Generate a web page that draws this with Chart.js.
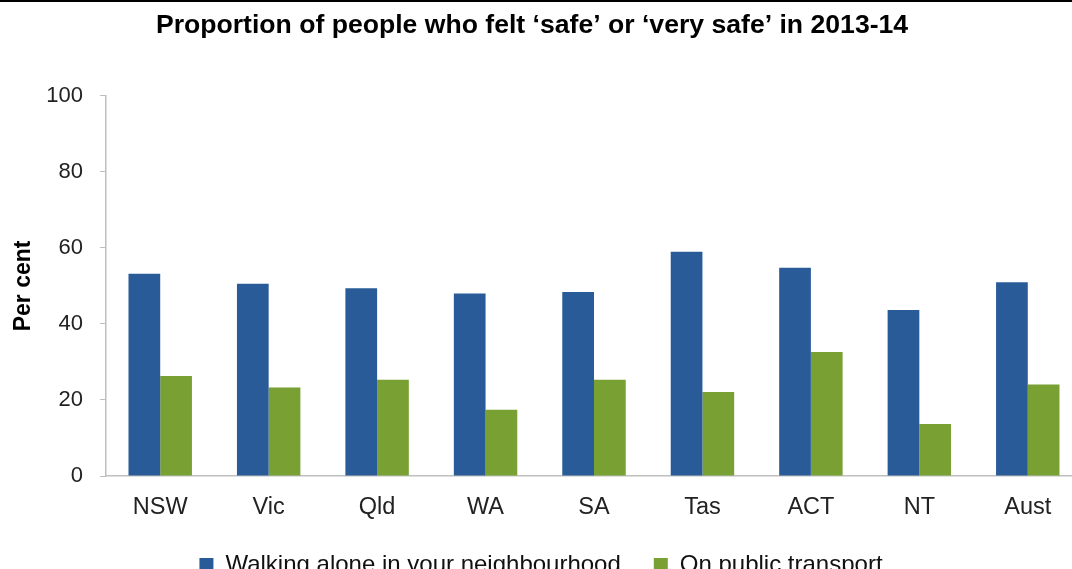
<!DOCTYPE html>
<html>
<head>
<meta charset="utf-8">
<script src="https://cdn.jsdelivr.net/npm/chart.js@4.4.0/dist/chart.umd.min.js"></script>
<style>
html, body { margin: 0; padding: 0; background: #fff; overflow: hidden; }
body { border-top: 2px solid #000; }
#wrap { position: relative; width: 1082px; height: 585px; }
</style>
</head>
<body>
<div id="wrap"><canvas id="chart"></canvas></div>
<script>
var STATES = ['NSW', 'Vic', 'Qld', 'WA', 'SA', 'Tas', 'ACT', 'NT', 'Aust'];
var WALKING = [53.2, 50.6, 49.4, 48.0, 48.4, 59.0, 54.8, 43.7, 51.0];
var TRANSPORT = [26.3, 23.3, 25.3, 17.4, 25.3, 22.1, 32.6, 13.7, 24.1];
var SERIES_NAMES = ['Walking alone in your neighbourhood', 'On public transport'];
var TITLE = 'Proportion of people who felt \u2018safe\u2019 or \u2018very safe\u2019 in 2013-14';

var FONT = '"Liberation Sans", Arial, sans-serif';
var BLUE = '#295B99';
var GREEN = '#78A033';
var AXIS_GREY = '#BFBFBF';

Chart.defaults.font.family = FONT;
Chart.defaults.color = '#222';

// the picture is cropped on the right, so the title sits a little left of the canvas centre
var titleShift = {
    id: 'titleShift',
    afterLayout: function(chart) {
        var t = chart.titleBlock;
        if (t) { t.left -= 9; t.right -= 9; }
    }
};

new Chart(document.getElementById('chart'), {
    type: 'bar',
    data: {
        labels: STATES,
        datasets: [
            { label: SERIES_NAMES[0], data: WALKING, backgroundColor: BLUE, borderWidth: 0 },
            { label: SERIES_NAMES[1], data: TRANSPORT, backgroundColor: GREEN, borderWidth: 0 }
        ]
    },
    options: {
        responsive: true,
        maintainAspectRatio: false,
        animation: false,
        layout: { padding: 0 },
        datasets: { bar: { categoryPercentage: 0.585, barPercentage: 1.0 } },
        plugins: {
            title: {
                display: true,
                text: TITLE,
                color: '#000',
                font: { size: 26.6, weight: 'bold' },
                padding: { top: 8, bottom: 54 }
            },
            legend: {
                position: 'bottom',
                labels: {
                    boxWidth: 14,
                    boxHeight: 14,
                    padding: 33,
                    color: '#111',
                    font: { size: 24 }
                }
            },
            tooltip: { enabled: false }
        },
        scales: {
            x: {
                grid: { display: false },
                border: { color: AXIS_GREY, width: 1.5 },
                ticks: { color: '#222', font: { size: 23.5, lineHeight: 1 }, padding: 11.9 },
                afterFit: function(scale) { scale.height = 44; }
            },
            y: {
                min: 0,
                max: 100,
                ticks: { stepSize: 20, color: '#222', font: { size: 22 }, padding: 17 },
                grid: { drawOnChartArea: false, color: AXIS_GREY, tickLength: 6 },
                border: { color: AXIS_GREY, width: 1.5 },
                title: {
                    display: true,
                    text: 'Per cent',
                    color: '#000',
                    font: { size: 23, weight: 'bold' },
                    padding: { top: 10, bottom: 0 }
                },
                afterFit: function(scale) { scale.width = 106; }
            }
        }
    },
    plugins: [titleShift]
});
</script>
</body>
</html>
